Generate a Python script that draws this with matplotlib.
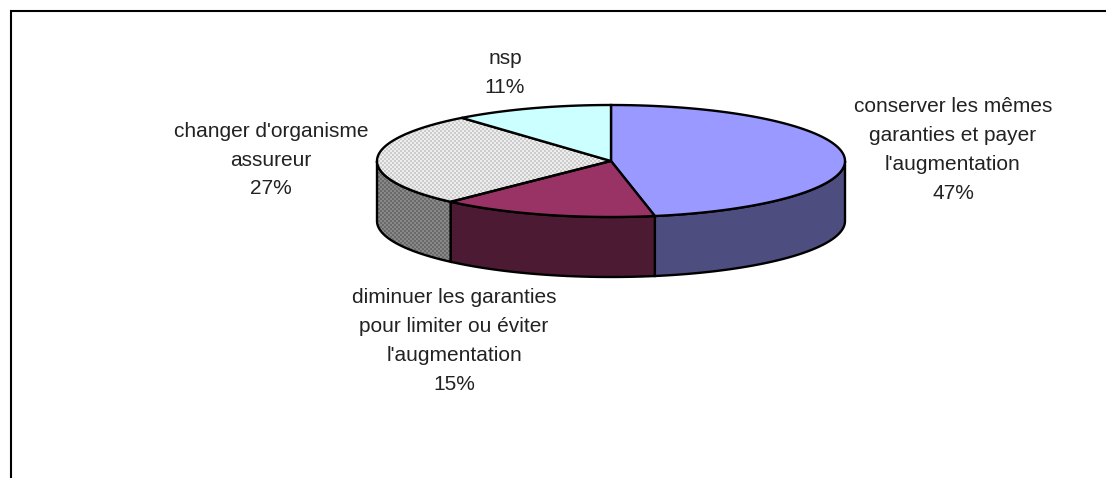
import numpy as np
import matplotlib
matplotlib.use('Agg')
import matplotlib.pyplot as plt
from matplotlib.patches import Polygon

labels = ["conserver les mêmes\ngaranties et payer\nl'augmentation\n47%",
          "diminuer les garanties\npour limiter ou éviter\nl'augmentation\n15%",
          "changer d'organisme\nassureur\n27%",
          "nsp\n11%"]
values = [47, 15, 27, 11]
top_colors = ['#9999ff', '#993366', None, '#ccffff']
side_colors = ['#4d4d80', '#4d1a33', None, None]
label_pos = [(953, 150), (454, 341), (271, 160), (505, 73)]

plt.rcParams['font.family'] = ['Liberation Sans', 'DejaVu Sans']

fig = plt.figure(figsize=(11.06, 4.78), dpi=100)
ax = fig.add_axes([0, 0, 1, 1])
ax.set_xlim(0, 1106)
ax.set_ylim(478, 0)
ax.axis('off')

# centre and radii of the ellipse, height of the wall
cx, cy = 611, 161
rx, ry = 234, 56
depth = 60


def rim(a, b, drop=0):
    t = np.radians(np.linspace(a, b, 200))
    return np.column_stack([cx + rx * np.sin(t), cy - ry * np.cos(t) + drop])


def checker(patch, light, dark):
    # small checkerboard, same as the office-style 50% pattern
    yy, xx = np.mgrid[0:478, 0:1106]
    board = ((xx // 2 + yy // 2) % 2).astype(float)
    im = ax.imshow(board, cmap=matplotlib.colors.ListedColormap([light, dark]),
                   extent=(0, 1106, 478, 0), interpolation='nearest', zorder=patch.get_zorder() - 0.5,
                   aspect='auto')
    im.set_clip_path(patch)


edges = np.concatenate([[0], np.cumsum(values) * 360.0 / sum(values)])

# walls first
for i in range(len(values)):
    a = max(edges[i], 90)
    b = min(edges[i + 1], 270)
    if a >= b:
        continue
    pts = np.vstack([rim(a, b), rim(a, b, depth)[::-1]])
    if side_colors[i] is None:
        p = Polygon(pts, closed=True, facecolor='none', edgecolor='black', linewidth=1.7, zorder=3)
        ax.add_patch(p)
        checker(p, '#888888', '#6a6a6a')
    else:
        ax.add_patch(Polygon(pts, closed=True, facecolor=side_colors[i], edgecolor='black', linewidth=1.7, zorder=3))

# top of the pie
for i in range(len(values)):
    pts = np.vstack([[cx, cy], rim(edges[i], edges[i + 1])])
    if top_colors[i] is None:
        p = Polygon(pts, closed=True, facecolor='none', edgecolor='black', linewidth=1.7, zorder=5)
        ax.add_patch(p)
        checker(p, '#eeeeee', '#cccccc')
    else:
        ax.add_patch(Polygon(pts, closed=True, facecolor=top_colors[i], edgecolor='black', linewidth=1.7, zorder=5))

for lab, (x, y) in zip(labels, label_pos):
    ax.text(x, y, lab, ha='center', va='center', fontsize=15, color='#222222', linespacing=1.66, zorder=6)

# frame, only top and left are in the picture
ax.plot([11, 11, 1106], [478, 11, 11], color='black', linewidth=1.5, solid_joinstyle='miter', clip_on=False)

ax.set_xlim(0, 1106)
ax.set_ylim(478, 0)
fig.savefig('out.png', dpi=100)
